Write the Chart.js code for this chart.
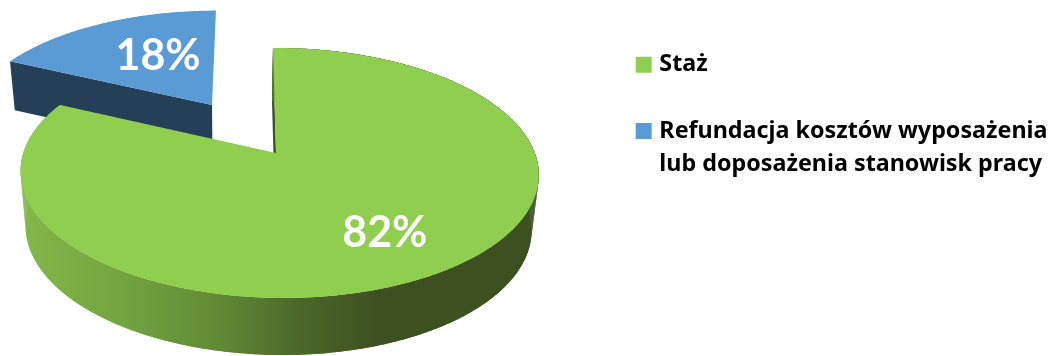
<!DOCTYPE html>
<html>
<head>
<meta charset="utf-8">
<style>
html, body { margin: 0; padding: 0; background: #fff; }
canvas { display: block; }
</style>
<script src="https://cdn.jsdelivr.net/npm/chart.js@4"></script>
</head>
<body>
<canvas id="wykres" width="1050" height="356"></canvas>
<script>
var categories = ['Staż', ['Refundacja kosztów wyposażenia', 'lub doposażenia stanowisk pracy']];
var values = [82, 18];
var topColors = ['#90ce50', '#5b9bd5'];

// projection of the unit circle: x0,y0 = slice tip, a,b = radii, k,m = perspective, s = skew
var topFace = [
  { x0: 276, y0: 153, a: 255.7, b: 121.8, k: 0.16, m: 0.012, s: 3.5 },
  { x0: 212, y0: 105, a: 240.6, b: 109.5, k: 0.16, m: 0, s: -4.6 }
];
var bottomFace = [
  { x0: 275, y0: 207.7, a: 249.7, b: 123.7, k: 0.16, m: 0.012, s: 3.5 },
  { x0: 212.5, y0: 154, a: 235.6, b: 110, k: 0.16, m: 0, s: -4.6 }
];
var labelSpots = [
  { r: 0.7, dx: 0, dy: 0 },
  { r: 0.7, dx: 26, dy: 10 }
];

function project(f, angle, r) {
  var u = Math.cos(angle) * r, v = Math.sin(angle) * r;
  var w = 1 - f.k * v - f.m * u;
  return { x: f.x0 + (f.a * u + f.s * v) / w, y: f.y0 + f.b * v / w };
}

function arcPoints(f, start, end) {
  var pts = [];
  var n = Math.ceil(Math.abs(end - start) / 0.01);
  for (var i = 0; i <= n; i++) {
    pts.push(project(f, start + (end - start) * i / n, 1));
  }
  return pts;
}

function fillPath(ctx, pts, color) {
  ctx.beginPath();
  pts.forEach(function (p, i) {
    if (i == 0) ctx.moveTo(p.x, p.y); else ctx.lineTo(p.x, p.y);
  });
  ctx.closePath();
  ctx.fillStyle = color;
  ctx.fill();
}

var pie3d = {
  id: 'pie3d',
  beforeDatasetsDraw: function (chart) {
    var ctx = chart.ctx;
    var arcs = chart.getDatasetMeta(0).data;
    ctx.save();

    // blue slice first, it stands behind the green one
    var blue = arcs[1];
    var tip = { x: topFace[1].x0, y: topFace[1].y0 };
    var tipLow = { x: bottomFace[1].x0, y: bottomFace[1].y0 };
    fillPath(ctx, [project(topFace[1], blue.startAngle, 1), tip, tipLow, project(bottomFace[1], blue.startAngle, 1)], '#243f57');
    fillPath(ctx, [tip].concat(arcPoints(topFace[1], blue.startAngle, blue.endAngle)), topColors[1]);

    // green slice: cut edge, outer wall, top
    var green = arcs[0];
    var gTop = topFace[0], gLow = bottomFace[0];
    fillPath(ctx, [project(gTop, green.startAngle, 1), { x: gTop.x0, y: gTop.y0 }, { x: gLow.x0, y: gLow.y0 }, project(gLow, green.startAngle, 1)], '#3c5020');

    var wall = ctx.createLinearGradient(20, 0, 538, 0);
    wall.addColorStop(0, '#83b84a');
    wall.addColorStop(0.2, '#72a440');
    wall.addColorStop(0.38, '#618a36');
    wall.addColorStop(0.55, '#4a6628');
    wall.addColorStop(0.7, '#3c5020');
    wall.addColorStop(1, '#3c5020');
    var upper = arcPoints(gTop, green.startAngle, green.endAngle);
    var lower = arcPoints(gLow, green.startAngle, green.endAngle);
    // small quads fill the tangent gap at the left and right silhouette
    for (var i = 0; i < upper.length - 1; i++) {
      fillPath(ctx, [upper[i], upper[i + 1], lower[i + 1], lower[i]], wall);
    }
    fillPath(ctx, upper.concat(lower.slice().reverse()), wall);
    fillPath(ctx, [{ x: gTop.x0, y: gTop.y0 }].concat(upper), topColors[0]);

    // percent labels
    ctx.fillStyle = '#fff';
    ctx.font = 'bold 43px Lato';
    ctx.textAlign = 'center';
    ctx.textBaseline = 'middle';
    var total = values[0] + values[1];
    arcs.forEach(function (arc, i) {
      var mid = (arc.startAngle + arc.endAngle) / 2;
      var p = project(topFace[i], mid, labelSpots[i].r);
      ctx.fillText(Math.round(values[i] / total * 100) + '%', p.x + labelSpots[i].dx, p.y + labelSpots[i].dy);
    });

    ctx.restore();
    return false;
  }
};

new Chart(document.getElementById('wykres'), {
  type: 'pie',
  data: {
    labels: categories,
    datasets: [{ data: values, backgroundColor: topColors, borderWidth: 0 }]
  },
  plugins: [pie3d],
  options: {
    responsive: false,
    animation: false,
    layout: { padding: { top: 10, right: -2 } },
    plugins: {
      tooltip: { enabled: false },
      legend: {
        position: 'right',
        align: 'start',
        labels: {
          boxWidth: 8,
          boxHeight: 8,
          padding: 43,
          color: '#111',
          font: { family: '"Noto Sans"', weight: 'bold', size: 23.3, lineHeight: 33 / 23.3 },
          generateLabels: function () {
            return categories.map(function (c, i) {
              return { text: c, fillStyle: topColors[i], strokeStyle: topColors[i], lineWidth: 8, hidden: false, index: i };
            });
          }
        }
      }
    }
  }
});
</script>
</body>
</html>
